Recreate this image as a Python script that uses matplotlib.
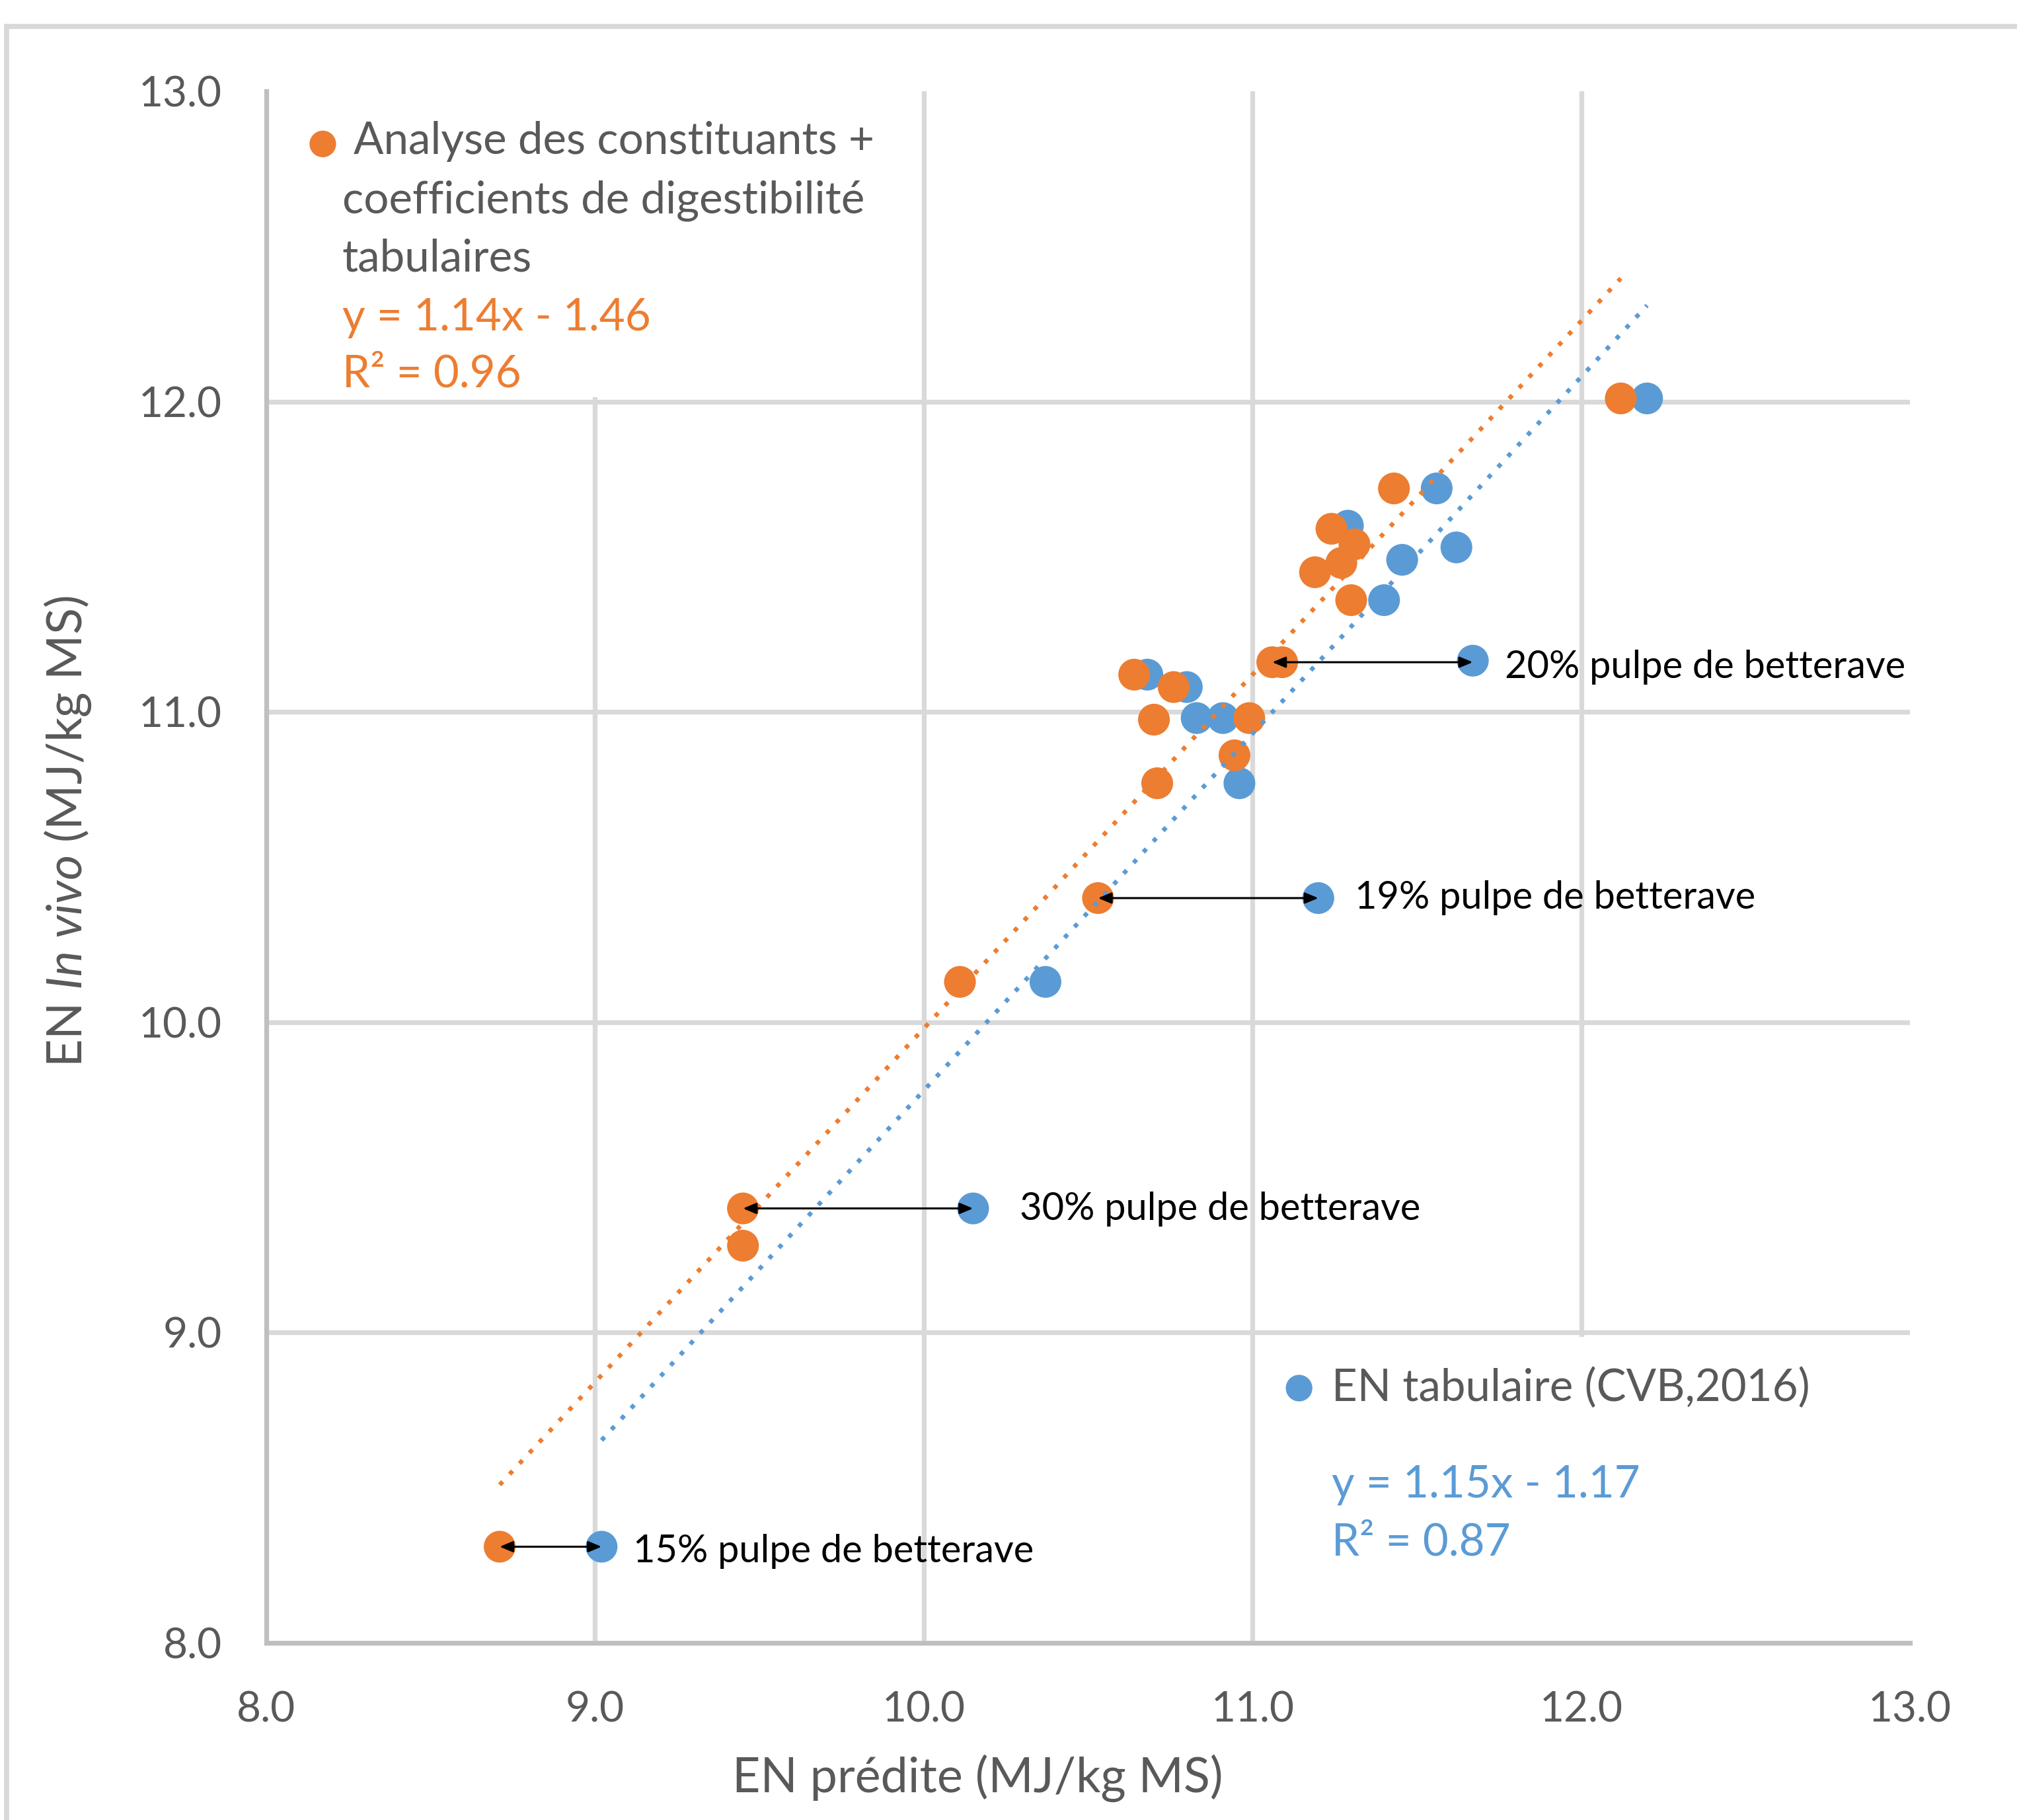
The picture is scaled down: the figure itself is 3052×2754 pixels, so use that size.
import matplotlib
matplotlib.use("Agg")
import matplotlib.pyplot as plt
from matplotlib.patches import Rectangle
from matplotlib.lines import Line2D
import numpy as np

# ---------------- data ----------------
orange_x = [8.71, 9.45, 9.45, 10.11, 10.53, 10.71, 10.70, 10.64, 10.76, 10.945,
            10.99, 11.06, 11.09, 11.19, 11.27, 11.31, 11.24, 11.30, 11.43, 12.12]
orange_y = [8.31, 9.40, 9.28, 10.13, 10.40, 10.77, 10.975, 11.12, 11.08, 10.86,
            10.98, 11.16, 11.16, 11.45, 11.48, 11.54, 11.59, 11.36, 11.72, 12.01]

blue_x = [9.02, 10.15, 10.37, 11.20, 10.96, 10.83, 10.91, 10.68, 10.80, 11.67,
          11.40, 11.455, 11.62, 11.29, 11.56, 12.20]
blue_y = [8.31, 9.40, 10.13, 10.40, 10.77, 10.98, 10.98, 11.12, 11.08, 11.165,
          11.36, 11.49, 11.53, 11.60, 11.72, 12.01]

# trendline coefficients (slope, intercept) as drawn
orange_trend = (1.14, -1.42)
blue_trend = (1.15, -1.72)

# arrows between paired points
arrow_from_x = [8.71, 9.45, 10.53, 11.06]
arrow_to_x = [9.02, 10.15, 11.20, 11.67]
arrow_y = [8.31, 9.40, 10.40, 11.16]
arrow_labels = ["15% pulpe de betterave", "30% pulpe de betterave",
                "19% pulpe de betterave", "20% pulpe de betterave"]
arrow_label_pos = [(0.223, 0.0589), (0.4585, 0.2794), (0.662, 0.480), (0.7535, 0.629)]

ticks = [8.0, 9.0, 10.0, 11.0, 12.0, 13.0]
tick_labels = ["8.0", "9.0", "10.0", "11.0", "12.0", "13.0"]

legend_orange = ["Analyse des constituants +", "coefficients de digestibilité", "tabulaires"]
eq_orange = ["y = 1.14x - 1.46", "R² = 0.96"]
legend_blue = "EN tabulaire (CVB,2016)"
eq_blue = ["y = 1.15x - 1.17", "R² = 0.87"]

ORANGE = "#ED7D31"
BLUE = "#5B9BD5"
GRAY_TXT = "#595959"
GRID = "#D9D9D9"
SPINE = "#BFBFBF"

FONT = ["Lato", "DejaVu Sans"]
plt.rcParams["font.family"] = FONT
plt.rcParams["mathtext.fontset"] = "custom"
plt.rcParams["mathtext.rm"] = "Lato"
plt.rcParams["mathtext.it"] = "Lato:italic"

fig = plt.figure(figsize=(15.26, 13.77), dpi=200)
ax = fig.add_axes([0.132, 0.0973, 0.815, 0.8526])

ax.set_xlim(8, 13)
ax.set_ylim(8, 13)
ax.set_xticks(ticks)
ax.set_yticks(ticks)
ax.set_xticklabels(tick_labels)
ax.set_yticklabels(tick_labels)
ax.tick_params(length=0, labelsize=23, labelcolor=GRAY_TXT)
ax.tick_params(axis="y", pad=24)
ax.tick_params(axis="x", pad=26)

ax.set_axisbelow(True)
ax.grid(True, color=GRID, linewidth=2.6)
ax.get_xgridlines()[-1].set_visible(False)
ax.get_ygridlines()[-1].set_visible(False)
ax.get_xgridlines()[0].set_visible(False)
ax.get_ygridlines()[0].set_visible(False)

for s in ["top", "right"]:
    ax.spines[s].set_visible(False)
for s in ["left", "bottom"]:
    ax.spines[s].set_color(SPINE)
    ax.spines[s].set_linewidth(2.6)

# white boxes behind the "legend" texts (cover gridlines)
ax.add_patch(Rectangle((8.0, 12.015), 1.95, 0.985, facecolor="white", edgecolor="none", zorder=1))
ax.add_patch(Rectangle((11.03, 8.0), 1.97, 0.985, facecolor="white", edgecolor="none", zorder=1))

ms = 300
ax.scatter(blue_x, blue_y, s=ms, color=BLUE, edgecolors="none", zorder=3)
ax.scatter(orange_x, orange_y, s=ms, color=ORANGE, edgecolors="none", zorder=4)

# trendlines
xo = np.array([min(orange_x), max(orange_x)])
xb = np.array([min(blue_x), max(blue_x)])
ax.plot(xo, orange_trend[0] * xo + orange_trend[1], color=ORANGE, lw=2.4,
        linestyle=(0, (1, 2.3)), dash_capstyle="butt", zorder=5)
ax.plot(xb, blue_trend[0] * xb + blue_trend[1], color=BLUE, lw=2.4,
        linestyle=(0, (1, 2.3)), dash_capstyle="butt", zorder=5)

# arrows
for x0, x1, yy in zip(arrow_from_x, arrow_to_x, arrow_y):
    ax.annotate("", xy=(x1, yy), xytext=(x0, yy),
                arrowprops=dict(arrowstyle="<|-|>,head_length=0.6,head_width=0.25",
                                color="black", lw=1.1, shrinkA=0, shrinkB=0),
                zorder=6)
for lab, (px, py) in zip(arrow_labels, arrow_label_pos):
    ax.text(px, py, lab, transform=ax.transAxes, fontsize=20.8, color="black",
            ha="left", va="center", zorder=7)

# orange legend block
ax.scatter([0.0344], [0.966], s=210, color=ORANGE, edgecolors="none",
           transform=ax.transAxes, zorder=7, clip_on=False)
ax.text(0.0532, 0.9677, legend_orange[0], transform=ax.transAxes, fontsize=24.2,
        color=GRAY_TXT, ha="left", va="center", zorder=7)
ax.text(0.0462, 0.9295, legend_orange[1], transform=ax.transAxes, fontsize=24.2,
        color=GRAY_TXT, ha="left", va="center", zorder=7)
ax.text(0.0462, 0.892, legend_orange[2], transform=ax.transAxes, fontsize=24.2,
        color=GRAY_TXT, ha="left", va="center", zorder=7)
ax.text(0.0462, 0.854, eq_orange[0], transform=ax.transAxes, fontsize=24.2,
        color=ORANGE, ha="left", va="center", zorder=7)
ax.text(0.0462, 0.8176, eq_orange[1], transform=ax.transAxes, fontsize=24.2,
        color=ORANGE, ha="left", va="center", zorder=7)

# blue legend block
ax.scatter([0.6283], [0.1642], s=210, color=BLUE, edgecolors="none",
           transform=ax.transAxes, zorder=7, clip_on=False)
ax.text(0.648, 0.1642, legend_blue, transform=ax.transAxes, fontsize=24.2,
        color=GRAY_TXT, ha="left", va="center", zorder=7)
ax.text(0.648, 0.102, eq_blue[0], transform=ax.transAxes, fontsize=24.2,
        color=BLUE, ha="left", va="center", zorder=7)
ax.text(0.648, 0.0647, eq_blue[1], transform=ax.transAxes, fontsize=24.2,
        color=BLUE, ha="left", va="center", zorder=7)

# axis titles
ax.text(0.4327, -0.087, "EN prédite (MJ/kg MS)", transform=ax.transAxes, fontsize=26.5,
        color=GRAY_TXT, ha="center", va="center")
ax.text(-0.1205, 0.523, r"EN $\mathit{In\ vivo}$ (MJ/kg MS)", transform=ax.transAxes,
        fontsize=26.5, color=GRAY_TXT, ha="center", va="center", rotation=90)

# outer chart border (top and left visible)
fig.add_artist(Line2D([10 / 3052, 1.0], [1 - 40 / 2754, 1 - 40 / 2754],
                      transform=fig.transFigure, color=GRID, lw=2.8))
fig.add_artist(Line2D([10 / 3052, 10 / 3052], [0.0, 1 - 40 / 2754],
                      transform=fig.transFigure, color=GRID, lw=2.8))

fig.savefig("out.png", dpi=200, facecolor="white")
